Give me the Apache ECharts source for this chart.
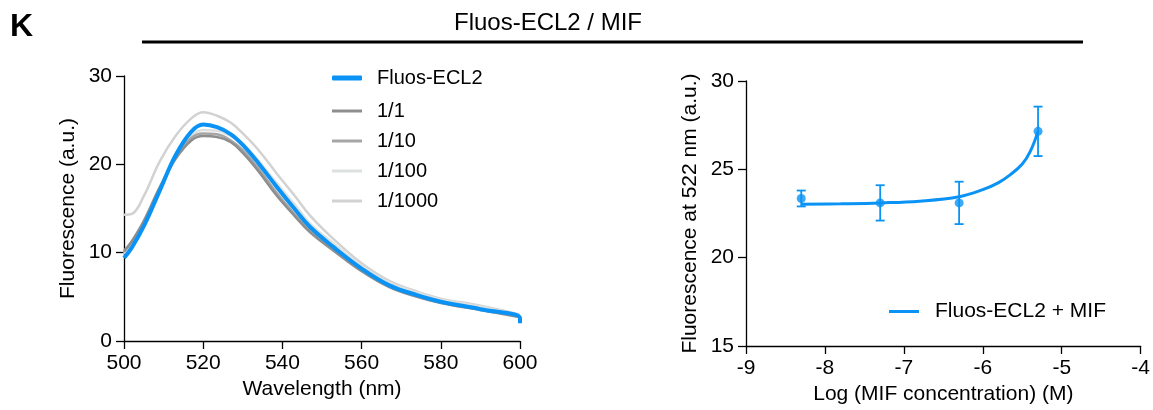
<!DOCTYPE html>
<html>
<head>
<meta charset="utf-8">
<script src="https://cdn.jsdelivr.net/npm/echarts@6/dist/echarts.min.js"></script>
<style>
html,body{margin:0;padding:0;background:#fff;}
#c{width:1153px;height:410px;}
</style>
</head>
<body>
<div id="c"></div>
<script>
// ---- Left panel: emission spectra ----
const wavelengths = [500, 502, 505, 509, 513, 517, 520, 523.5, 527, 530, 534, 538.5, 543, 547, 553, 560, 567, 574, 580, 590, 600];
const fluosECL2  = [9.4, 10.6, 13.0, 17.0, 21.0, 23.7, 24.5, 24.2, 23.4, 22.2, 20.1, 17.5, 15.0, 12.9, 10.6, 8.2, 6.3, 5.2, 4.45, 3.6, 2.6];
const blueHookEnd = 2.0;
const ratio1_1    = [10.1, 11.3, 13.6, 17.4, 20.6, 22.7, 23.2, 23.1, 22.5, 21.3, 19.2, 16.5, 14.2, 12.3, 10.2, 7.9, 6.1, 5.0, 4.3, 3.5, 2.7];
const ratio1_10   = [10.2, 11.3, 13.4, 17.0, 20.8, 23.0, 23.5, 23.4, 22.7, 21.6, 19.5, 16.8, 14.4, 12.5, 10.4, 8.0, 6.2, 5.1, 4.4, 3.6, 2.8];
const ratio1_100  = [9.9, 11.0, 13.1, 16.9, 21.0, 23.2, 23.9, 23.8, 23.2, 22.3, 20.4, 17.9, 15.5, 13.3, 11.0, 8.5, 6.6, 5.5, 4.7, 3.9, 2.9];
const ratio1_1000 = [14.3, 14.4, 16.4, 20.3, 23.2, 25.2, 25.9, 25.5, 24.7, 23.5, 21.6, 19.0, 16.5, 14.2, 11.5, 8.8, 6.8, 5.6, 4.8, 4.0, 3.0];
const spectraNames = ['Fluos-ECL2', '1/1', '1/10', '1/100', '1/1000'];

// ---- Right panel: dose response ----
const logConc = [-8.3, -7.3, -6.3, -5.3];
const meanF   = [23.35, 23.1, 23.1, 27.15];
const sdF     = [0.45, 1.0, 1.2, 1.4];
const fitX = [-8.3, -7.8, -7.3, -6.8, -6.3, -6.0, -5.8, -5.65, -5.5, -5.4, -5.3];
const fitY = [23.02, 23.05, 23.1, 23.2, 23.45, 23.85, 24.25, 24.7, 25.3, 26.0, 27.15];
const doseName = 'Fluos-ECL2 + MIF';

const FONT = 'Liberation Sans, Arial, Helvetica, sans-serif';
const BLUE = '#0a93f5';
const pairs = (xs, ys) => xs.map((x, i) => [x, ys[i]]);

const axisCommon = {
  axisLine: {show: true, lineStyle: {color: '#000', width: 1.3}},
  axisTick: {show: true, length: 8, lineStyle: {color: '#000', width: 1.3}},
  axisLabel: {color: '#000', fontSize: 21, fontFamily: FONT, margin: 12},
  splitLine: {show: false},
  nameTextStyle: {color: '#000', fontSize: 21, fontFamily: FONT},
  nameLocation: 'middle'
};

const blueData = pairs(wavelengths, fluosECL2).concat([[600, blueHookEnd]]);
const grayDefs = [
  {name: '1/1', data: ratio1_1, color: '#8e8e8e'},
  {name: '1/10', data: ratio1_10, color: '#a6a6a6'},
  {name: '1/100', data: ratio1_100, color: '#dde0e0'},
  {name: '1/1000', data: ratio1_1000, color: '#d2d2d2'}
];

const series = [];
grayDefs.slice().reverse().forEach(g => {
  series.push({
    name: g.name, type: 'line', xAxisIndex: 0, yAxisIndex: 0,
    data: pairs(wavelengths, g.data), smooth: 0.4, symbol: 'none',
    lineStyle: {color: g.color, width: 2.5}, itemStyle: {color: g.color},
    z: 2
  });
});
series.push({
  name: spectraNames[0], type: 'line', xAxisIndex: 0, yAxisIndex: 0,
  data: blueData, smooth: 0.4, symbol: 'none',
  lineStyle: {color: BLUE, width: 4}, itemStyle: {color: BLUE}, z: 3
});

// error bars
series.push({
  type: 'custom', xAxisIndex: 1, yAxisIndex: 1, z: 3,
  data: logConc.map((x, i) => [x, meanF[i] - sdF[i], meanF[i] + sdF[i]]),
  renderItem: function (params, api) {
    const lo = api.coord([api.value(0), api.value(1)]);
    const hi = api.coord([api.value(0), api.value(2)]);
    const w = 4.5;
    const st = {stroke: BLUE, lineWidth: 1.8, fill: null};
    return {type: 'group', children: [
      {type: 'line', shape: {x1: lo[0], y1: lo[1], x2: hi[0], y2: hi[1]}, style: st},
      {type: 'line', shape: {x1: lo[0] - w, y1: lo[1], x2: lo[0] + w, y2: lo[1]}, style: st},
      {type: 'line', shape: {x1: hi[0] - w, y1: hi[1], x2: hi[0] + w, y2: hi[1]}, style: st}
    ]};
  },
  silent: true
});
series.push({
  name: doseName, type: 'line', xAxisIndex: 1, yAxisIndex: 1,
  data: pairs(fitX, fitY), smooth: 0.4, symbol: 'none',
  lineStyle: {color: BLUE, width: 3}, itemStyle: {color: BLUE}, z: 4
});
series.push({
  type: 'scatter', xAxisIndex: 1, yAxisIndex: 1,
  data: pairs(logConc, meanF), symbol: 'circle', symbolSize: 9,
  itemStyle: {color: BLUE}, z: 5, silent: true
});

const legendText = (size, pad) => ({color: '#000', fontSize: size, fontFamily: FONT, padding: [0, 0, 0, pad]});

const option = {
  animation: false,
  backgroundColor: '#fff',
  textStyle: {fontFamily: FONT},
  graphic: [
    {type: 'text', left: 10, top: 11, style: {text: 'K', fontSize: 32, fontWeight: 'bold', fontFamily: FONT, fill: '#000'}},
    {type: 'text', x: 548, y: 23, style: {text: 'Fluos-ECL2 / MIF', fontSize: 24, fontFamily: FONT, fill: '#000', textAlign: 'center', textVerticalAlign: 'middle'}},
    {type: 'line', shape: {x1: 142, y1: 42, x2: 1083, y2: 42}, style: {stroke: '#000', lineWidth: 3}}
  ],
  legend: [
    {
      data: [spectraNames[0]], orient: 'vertical', left: 327, top: 63,
      icon: 'roundRect', itemWidth: 30, itemHeight: 5,
      textStyle: legendText(20, 10), selectedMode: false
    },
    {
      data: spectraNames.slice(1), orient: 'vertical', left: 327, top: 96,
      icon: 'rect', itemWidth: 30, itemHeight: 3, itemGap: 10,
      textStyle: legendText(20, 10), selectedMode: false
    },
    {
      data: [doseName], orient: 'vertical', left: 884, top: 296,
      icon: 'rect', itemWidth: 30, itemHeight: 3,
      textStyle: legendText(21, 11), selectedMode: false
    }
  ],
  grid: [
    {left: 124, right: 633, top: 76, bottom: 69, containLabel: false},
    {left: 746, right: 11, top: 81, bottom: 64, containLabel: false}
  ],
  xAxis: [
    Object.assign({}, axisCommon, {type: 'value', gridIndex: 0, min: 500, max: 600, interval: 20, name: 'Wavelength (nm)', nameGap: 37}),
    Object.assign({}, axisCommon, {type: 'value', gridIndex: 1, min: -9, max: -4, interval: 1, name: 'Log (MIF concentration) (M)', nameGap: 34})
  ],
  yAxis: [
    Object.assign({}, axisCommon, {type: 'value', gridIndex: 0, min: 0, max: 30, interval: 10, name: 'Fluorescence (a.u.)', nameGap: 45}),
    Object.assign({}, axisCommon, {type: 'value', gridIndex: 1, min: 15, max: 30, interval: 5, name: 'Fluorescence at 522 nm (a.u.)', nameGap: 45})
  ],
  series: series
};

const chart = echarts.init(document.getElementById('c'), null, {renderer: 'canvas'});
chart.setOption(option);
</script>
</body>
</html>
